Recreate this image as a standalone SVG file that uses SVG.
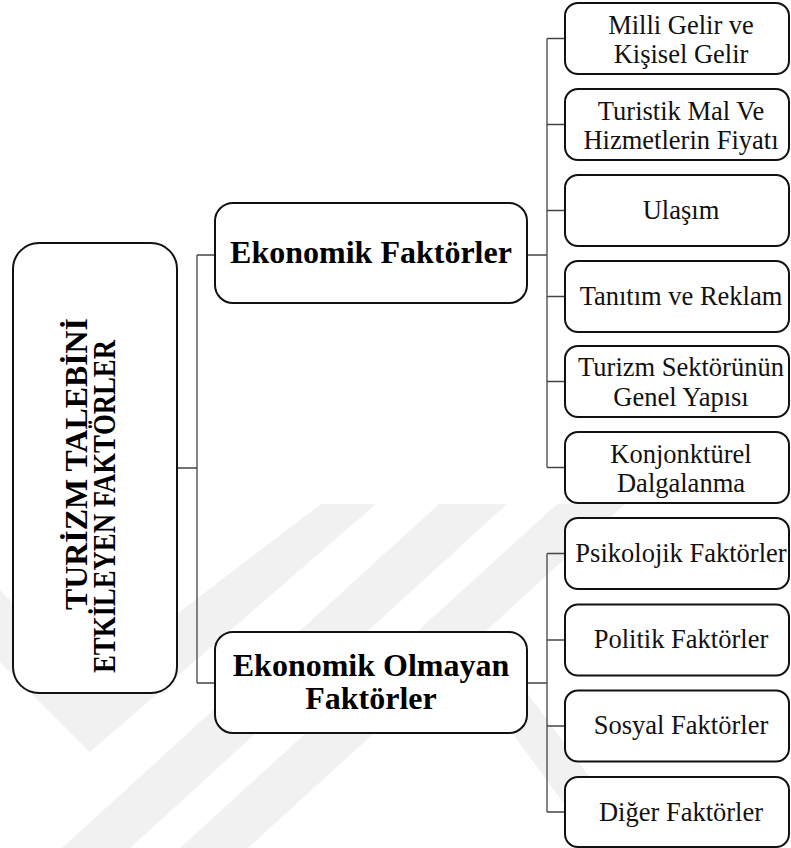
<svg xmlns="http://www.w3.org/2000/svg" width="791" height="848" viewBox="0 0 791 848">
<style>
.wm{fill:#f1f1f1;stroke:none}
.box{fill:#fff;stroke:#111;stroke-width:2}
.conn{fill:none;stroke:#444;stroke-width:1.3}
.t{font-family:"Liberation Serif","Times New Roman",Tinos,"DejaVu Serif",serif;font-weight:normal;font-style:normal;font-size:26.5px;text-anchor:middle;fill:#111}
.b{font-family:"Liberation Serif","Times New Roman",serif;font-weight:bold;font-size:32px;text-anchor:middle;fill:#000}
.r{font-family:"Liberation Serif","Times New Roman",serif;font-weight:bold;font-size:32px;fill:#000}
</style>
<rect x="0" y="0" width="791" height="848" fill="#fff"/>
<g id="watermark">
<polygon class="wm" points="0,590 90,680 321,504 376,504 90,752 0,662"/>
<polygon class="wm" points="439,504 507,504 130,848 62,848"/>
<polygon class="wm" points="557,504 625,504 248,848 180,848"/>
<polygon class="wm" points="480,690 525,690 642,848 597,848"/>
</g>
<g id="connectors">
<path class="conn" d="M177,468 H197 M197,255 V683 M197,255 H215 M197,683 H215"/>
<path class="conn" d="M527,255 H547 M547,38.5 V467.5 M547,38.5 H565 M547,124.5 H565 M547,210.5 H565 M547,296.5 H565 M547,381.5 H565 M547,467.5 H565"/>
<path class="conn" d="M527,683 H547 M547,553.5 V812 M547,553.5 H565 M547,640 H565 M547,726 H565 M547,812 H565"/>
</g>
<g id="root">
<rect class="box" x="13" y="243" width="164" height="450" rx="26"/>
<text class="r" transform="translate(87,610) rotate(-90)" textLength="292" lengthAdjust="spacingAndGlyphs">TURİZM TALEBİNİ</text>
<text class="r" transform="translate(115,673) rotate(-90)" textLength="333" lengthAdjust="spacingAndGlyphs">ETKİLEYEN FAKTÖRLER</text>
</g>
<g id="ekonomik">
<rect class="box" x="215" y="203" width="312" height="100" rx="18"/>
<text class="b" x="371" y="263">Ekonomik Faktörler</text>
</g>
<g id="ekonomik-olmayan">
<rect class="box" x="215" y="632" width="312" height="101" rx="18"/>
<text class="b" x="371" y="676">Ekonomik Olmayan</text>
<text class="b" x="371" y="709">Faktörler</text>
</g>
<g id="milli-gelir">
<rect class="box" x="565" y="3" width="224" height="71" rx="13"/>
<text class="t" x="681" y="33.5">Milli Gelir ve</text>
<text class="t" x="681" y="62.5">Kişisel Gelir</text>
</g>
<g id="fiyat">
<rect class="box" x="565" y="89" width="224" height="71" rx="13"/>
<text class="t" x="681" y="119.5">Turistik Mal Ve</text>
<text class="t" x="681" y="148.5">Hizmetlerin Fiyatı</text>
</g>
<g id="ulasim">
<rect class="box" x="565" y="175" width="224" height="71" rx="13"/>
<text class="t" x="681" y="218.5">Ulaşım</text>
</g>
<g id="tanitim">
<rect class="box" x="565" y="261" width="224" height="71" rx="13"/>
<text class="t" x="681" y="304.5">Tanıtım ve Reklam</text>
</g>
<g id="sektor">
<rect class="box" x="565" y="346" width="224" height="71" rx="13"/>
<text class="t" x="681" y="376">Turizm Sektörünün</text>
<text class="t" x="681" y="405.5">Genel Yapısı</text>
</g>
<g id="konjonktur">
<rect class="box" x="565" y="432" width="224" height="71" rx="13"/>
<text class="t" x="681" y="462.5">Konjonktürel</text>
<text class="t" x="681" y="491.5">Dalgalanma</text>
</g>
<g id="psikolojik">
<rect class="box" x="565" y="518" width="224" height="71" rx="13"/>
<text class="t" x="681" y="561.5">Psikolojik Faktörler</text>
</g>
<g id="politik">
<rect class="box" x="565" y="604.5" width="224" height="71" rx="13"/>
<text class="t" x="681" y="648">Politik Faktörler</text>
</g>
<g id="sosyal">
<rect class="box" x="565" y="690.5" width="224" height="71" rx="13"/>
<text class="t" x="681" y="734">Sosyal Faktörler</text>
</g>
<g id="diger">
<rect class="box" x="565" y="777" width="224" height="70" rx="13"/>
<text class="t" x="681" y="820.5">Diğer Faktörler</text>
</g>
</svg>
